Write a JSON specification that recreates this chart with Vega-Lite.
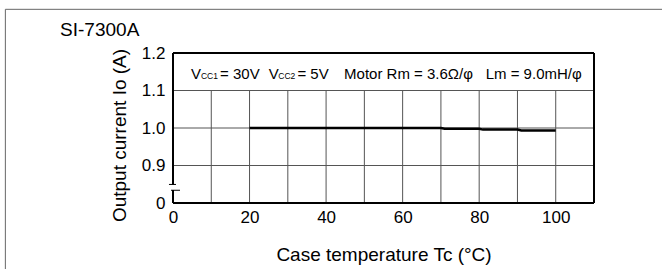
{
  "$schema": "https://vega.github.io/schema/vega-lite/v6.json",
  "width": 421,
  "height": 150,
  "autosize": {"type": "none"},
  "padding": {"left": 173, "top": 53, "right": 68, "bottom": 66},
  "background": "white",
  "resolve": {"axis": {"x": "independent", "y": "independent"}},
  "config": {
    "view": {"stroke": null},
    "font": "Liberation Sans",
    "axis": {"labelColor": "black", "titleColor": "black", "titleFontWeight": "normal", "domain": false, "ticks": false, "grid": false}
  },
  "data": {"values": [{"k": 1}]},
  "datasets": {
    "curve": [
      {"tc": 20, "io": 1.0},
      {"tc": 30, "io": 1.0},
      {"tc": 40, "io": 1.0},
      {"tc": 50, "io": 1.0},
      {"tc": 60, "io": 1.0},
      {"tc": 70, "io": 1.0},
      {"tc": 71, "io": 0.998},
      {"tc": 80, "io": 0.998},
      {"tc": 81, "io": 0.9957},
      {"tc": 90, "io": 0.9957},
      {"tc": 91, "io": 0.9935},
      {"tc": 100, "io": 0.9935}
    ],
    "vgrid": [{"tc": 10}, {"tc": 20}, {"tc": 30}, {"tc": 40}, {"tc": 50}, {"tc": 60}, {"tc": 70}, {"tc": 80}, {"tc": 90}, {"tc": 100}],
    "hgrid": [{"io": 0.9}, {"io": 1.0}, {"io": 1.1}],
    "notes": [
      {"tc": 4.7, "io": 1.1315, "t": "V"},
      {"tc": 12.3, "io": 1.1315, "t": "= 30V"},
      {"tc": 25.0, "io": 1.1315, "t": "V"},
      {"tc": 32.5, "io": 1.1315, "t": "= 5V"},
      {"tc": 44.7, "io": 1.1315, "t": "Motor Rm = 3.6Ω/φ"},
      {"tc": 81.7, "io": 1.1315, "t": "Lm = 9.0mH/φ"}
    ],
    "subs": [
      {"tc": 7.3, "io": 1.1315, "t": "CC1"},
      {"tc": 27.5, "io": 1.1315, "t": "CC2"}
    ],
    "heading": [
      {"tc": -29.5, "io": 1.246, "t": "SI-7300A"}
    ]
  },
  "layer": [
    {
      "data": {"name": "vgrid"},
      "mark": {"type": "rule", "color": "#555555", "strokeWidth": 1},
      "encoding": {
        "x": {"field": "tc", "type": "quantitative", "axis": null, "scale": {"domain": [0, 110], "nice": false, "zero": false}},
        "y": {"datum": 0.8, "type": "quantitative", "axis": null, "scale": {"domain": [0.8, 1.2], "nice": false, "zero": false}},
        "y2": {"datum": 1.1}
      }
    },
    {
      "data": {"name": "hgrid"},
      "mark": {"type": "rule", "color": "#555555", "strokeWidth": 1},
      "encoding": {
        "y": {"field": "io", "type": "quantitative", "axis": null},
        "x": {"datum": 0, "type": "quantitative", "axis": null},
        "x2": {"datum": 110}
      }
    },
    {
      "data": {"name": "curve"},
      "mark": {"type": "line", "color": "black", "strokeWidth": 2.5},
      "encoding": {
        "x": {
          "field": "tc", "type": "quantitative",
          "axis": {"values": [0, 20, 40, 60, 80, 100], "labelFontSize": 17, "labelPadding": 6, "labelFlush": false, "title": "Case temperature Tc (°C)", "titleFontSize": 19, "titlePadding": 20}
        },
        "y": {
          "field": "io", "type": "quantitative",
          "axis": {"values": [0.8, 0.9, 1.0, 1.1, 1.2], "labelExpr": "datum.value < 0.85 ? '0' : format(datum.value, '.1f')", "labelFontSize": 17, "labelPadding": 8, "labelFlush": false, "title": "Output current Io (A)", "titleFontSize": 19, "titlePadding": 12, "titleY": 82}
        }
      }
    },
    {
      "mark": {"type": "rule", "color": "#666666", "strokeWidth": 1, "clip": false},
      "encoding": {
        "x": {"datum": -43.8, "type": "quantitative", "axis": null},
        "x2": {"datum": 130},
        "y": {"datum": 1.3165, "type": "quantitative", "axis": null}
      }
    },
    {
      "mark": {"type": "rule", "color": "#666666", "strokeWidth": 1, "clip": false},
      "encoding": {
        "x": {"datum": -43.8, "type": "quantitative", "axis": null},
        "y": {"datum": 1.3165, "type": "quantitative", "axis": null},
        "y2": {"datum": 0.5}
      }
    },
    {
      "mark": {"type": "rule", "color": "black", "strokeWidth": 2},
      "encoding": {
        "x": {"datum": 0, "type": "quantitative", "axis": null},
        "x2": {"datum": 110},
        "y": {"datum": 1.2, "type": "quantitative", "axis": null}
      }
    },
    {
      "mark": {"type": "rule", "color": "black", "strokeWidth": 2},
      "encoding": {
        "x": {"datum": 0, "type": "quantitative", "axis": null},
        "x2": {"datum": 110},
        "y": {"datum": 0.8, "type": "quantitative", "axis": null}
      }
    },
    {
      "mark": {"type": "rule", "color": "black", "strokeWidth": 2},
      "encoding": {
        "x": {"datum": 110, "type": "quantitative", "axis": null},
        "y": {"datum": 0.8, "type": "quantitative", "axis": null},
        "y2": {"datum": 1.2}
      }
    },
    {
      "mark": {"type": "rule", "color": "black", "strokeWidth": 2},
      "encoding": {
        "x": {"datum": 0, "type": "quantitative", "axis": null},
        "y": {"datum": 0.8488, "type": "quantitative", "axis": null},
        "y2": {"datum": 1.2}
      }
    },
    {
      "mark": {"type": "rule", "color": "black", "strokeWidth": 2},
      "encoding": {
        "x": {"datum": 0, "type": "quantitative", "axis": null},
        "y": {"datum": 0.8, "type": "quantitative", "axis": null},
        "y2": {"datum": 0.8347}
      }
    },
    {
      "mark": {"type": "rule", "color": "black", "strokeWidth": 1, "clip": false},
      "encoding": {
        "x": {"datum": -1.05, "type": "quantitative", "axis": null},
        "x2": {"datum": 0.78},
        "y": {"datum": 0.8495, "type": "quantitative", "axis": null}
      }
    },
    {
      "mark": {"type": "rule", "color": "black", "strokeWidth": 1, "clip": false},
      "encoding": {
        "x": {"datum": -0.52, "type": "quantitative", "axis": null},
        "x2": {"datum": 1.83},
        "y": {"datum": 0.8340, "type": "quantitative", "axis": null}
      }
    },
    {
      "data": {"name": "notes"},
      "mark": {"type": "text", "align": "left", "baseline": "alphabetic", "fontSize": 15, "color": "black"},
      "encoding": {
        "x": {"field": "tc", "type": "quantitative", "axis": null},
        "y": {"field": "io", "type": "quantitative", "axis": null},
        "text": {"field": "t"}
      }
    },
    {
      "data": {"name": "subs"},
      "mark": {"type": "text", "align": "left", "baseline": "alphabetic", "fontSize": 8.5, "color": "black"},
      "encoding": {
        "x": {"field": "tc", "type": "quantitative", "axis": null},
        "y": {"field": "io", "type": "quantitative", "axis": null},
        "text": {"field": "t"}
      }
    },
    {
      "data": {"name": "heading"},
      "mark": {"type": "text", "align": "left", "baseline": "alphabetic", "fontSize": 19, "color": "black", "clip": false},
      "encoding": {
        "x": {"field": "tc", "type": "quantitative", "axis": null},
        "y": {"field": "io", "type": "quantitative", "axis": null},
        "text": {"field": "t"}
      }
    }
  ]
}
